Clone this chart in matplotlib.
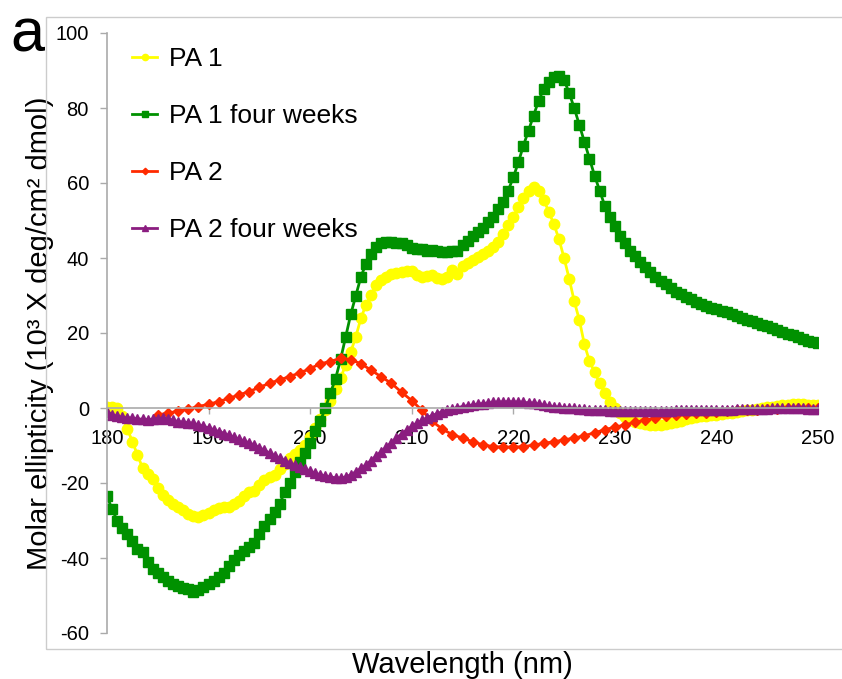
import numpy as np
import matplotlib.pyplot as plt
from matplotlib.patches import Rectangle

plt.rcParams['font.family'] = ['Liberation Sans', 'DejaVu Sans']
plt.rcParams['axes.unicode_minus'] = False

# wavelengths (nm)
wl = np.arange(180, 250.5, 0.5)
wl_red = np.arange(185, 251, 1)

# molar ellipticity (10^3 deg cm2 / dmol)
pa1 = [0.3, 0.2, 0.0, -2.0, -5.5, -9.0, -12.5, -16.0, -17.5, -19.0, -21.3, -23.2, -24.5, -25.5, -26.4, -27.3, -28.2, -28.8, -29.0, -28.5,
       -27.9, -27.2, -26.7, -26.5, -26.3, -25.6, -24.8, -23.5, -22.5, -22.0, -20.5, -19.2, -18.5, -17.8, -16.3, -15.0, -13.3, -12.3, -11.2, -9.8,
       -7.8, -5.2, -2.8, -0.5, 2.0, 5.0, 8.0, 11.5, 15.0, 19.0, 24.0, 27.5, 30.2, 32.8, 34.2, 35.0, 35.8, 36.0, 36.3, 36.6,
       36.5, 35.5, 35.0, 35.2, 35.5, 34.8, 34.5, 35.0, 36.8, 35.8, 37.8, 38.8, 39.5, 40.3, 41.0, 41.8, 43.0, 44.2, 46.5, 48.8,
       51.0, 53.5, 56.0, 58.0, 59.0, 58.0, 55.5, 52.3, 49.0, 45.0, 40.0, 34.5, 28.5, 23.5, 17.0, 12.5, 9.6, 6.7, 4.0, 1.6,
       0.0, -1.2, -2.3, -3.0, -3.6, -4.0, -4.3, -4.5, -4.5, -4.5, -4.3, -4.1, -3.8, -3.4, -3.0, -2.7, -2.4, -2.2, -2.0, -1.9,
       -1.8, -1.6, -1.4, -1.2, -1.0, -0.8, -0.6, -0.4, -0.2, 0.0, 0.2, 0.4, 0.6, 0.8, 0.9, 1.0, 1.0, 1.0, 0.9, 0.9,
       0.8]

pa1_4w = [-23.5, -27, -30, -32, -33.5, -35.5, -37.5, -38.5, -41, -43, -44, -45, -46, -46.8, -47.5, -48, -48.2, -49, -48.5, -47.8,
          -46.8, -46, -45, -44, -42, -40.5, -39.3, -38, -37, -36, -33.5, -31.5, -29.5, -27.8, -25.5, -22.5, -20, -17, -14.5, -12,
          -9.3, -6.2, -3.5, 0, 4, 7.8, 13, 19, 25, 30, 35, 38.5, 41, 43, 44, 44.2, 44.3, 44, 44, 43.5,
          42.8, 42.5, 42.3, 42, 42.2, 41.8, 41.5, 41.5, 42, 42, 43.5, 44.5, 46, 47, 48, 49.5, 51, 53, 55, 58,
          61.5, 65.5, 70, 74, 78, 82, 85, 87, 88.3, 88.5, 87.5, 84, 80, 75.5, 71, 66.5, 62, 58, 54, 51,
          48.5, 46, 44, 42, 40.5, 39, 37.5, 36.2, 35, 34, 33, 32, 31, 30.3, 29.5, 29, 28.3, 27.8, 27.3, 26.8,
          26.3, 25.9, 25.5, 25, 24.5, 24, 23.6, 23.1, 22.7, 22.2, 21.8, 21.3, 20.8, 20.3, 19.8, 19.4, 19, 18.5, 18, 17.6,
          17.3]

pa2 = [-1.9, -1.3, -0.9, -0.3, 0.4, 1.0, 1.7, 2.6, 3.5,
       4.4, 5.5, 6.6, 7.5, 8.4, 9.4, 10.5, 11.8, 12.4, 13.3,
       12.9, 11.8, 10.1, 8.3, 6.6, 4.2, 2.0, -0.6, -3.5, -5.6,
       -7.1, -8.0, -9.0, -9.8, -10.3, -10.4, -10.4, -10.3, -9.9, -9.4,
       -9.0, -8.5, -8.0, -7.4, -6.6, -5.8, -5.1, -4.5, -3.8, -3.2,
       -2.7, -2.2, -1.9, -1.6, -1.4, -1.2, -1.0, -0.8, -0.6, -0.5,
       -0.4, -0.3, -0.2, -0.1, 0.0, 0.1, 0.1]

pa2_4w = [-1.0, -1.8, -2.2, -2.5, -2.6, -2.7, -2.9, -3.0, -3.1, -3.0, -2.8, -2.7, -2.9, -3.3, -3.6, -3.8, -3.9, -4.1, -4.5, -4.9,
          -5.3, -5.8, -6.3, -6.8, -7.3, -7.8, -8.3, -8.8, -9.3, -9.9, -10.6, -11.3, -12.0, -12.7, -13.4, -14.0, -14.6, -15.2, -15.7, -16.3,
          -16.9, -17.4, -17.8, -18.2, -18.4, -18.6, -18.7, -18.4, -17.8, -17.0, -16.1, -15.1, -14.0, -12.8, -11.6, -10.4, -9.2, -8.0, -6.9, -5.9,
          -4.9, -4.0, -3.3, -2.6, -2.0, -1.5, -1.0, -0.6, -0.2, 0.1, 0.4, 0.6, 0.8, 1.0, 1.2, 1.3, 1.5, 1.6, 1.6, 1.7,
          1.6, 1.6, 1.5, 1.4, 1.3, 1.0, 0.7, 0.5, 0.3, 0.2, 0.1, 0.0, -0.1, -0.2, -0.3, -0.4, -0.5, -0.6, -0.6, -0.7,
          -0.7, -0.8, -0.8, -0.8, -0.8, -0.8, -0.8, -0.7, -0.7, -0.7, -0.7, -0.7, -0.6, -0.6, -0.6, -0.6, -0.5, -0.5, -0.5, -0.5,
          -0.5, -0.4, -0.4, -0.4, -0.3, -0.3, -0.3, -0.2, -0.2, -0.2, -0.2, -0.1, -0.1, -0.1, -0.1, 0.0, -0.1, -0.1, -0.2, -0.2,
          -0.2]

fig = plt.figure(figsize=(8.42, 6.79), dpi=100)
W, H = 842, 679
ax = fig.add_axes([107 / W, 1 - 633 / H, 711 / W, 600 / H])

# light grey frame of the chart area (right edge falls outside the picture)
fig.patches.append(Rectangle((46 / W, 1 - 649 / H), 2, (649 - 17) / H, transform=fig.transFigure,
                             fill=False, edgecolor='#cccccc', linewidth=1, zorder=0))

ax.plot(wl, pa1, color='#ffff00', marker='o', markersize=7.5, linewidth=2, label='PA 1')
ax.plot(wl, pa1_4w, color='#009100', marker='s', markersize=6.5, linewidth=2, label='PA 1 four weeks')
ax.plot(wl_red, pa2, color='#ff2a00', marker='D', markersize=5.5, linewidth=2, label='PA 2')
ax.plot(wl, pa2_4w, color='#8b1d80', marker='^', markersize=7, linewidth=2, label='PA 2 four weeks')

ax.set_xlim(180, 250)
ax.set_ylim(-60, 100)
ax.set_xticks(np.arange(180, 251, 10))
ax.set_yticks(np.arange(-60, 101, 20))

for s in ['top', 'right']:
    ax.spines[s].set_visible(False)
ax.spines['bottom'].set_position(('data', 0))
for s in ['left', 'bottom']:
    ax.spines[s].set_color('#aaaaaa')
    ax.spines[s].set_linewidth(1.2)
ax.tick_params(axis='x', direction='out', length=4, width=1, color='#aaaaaa', labelsize=14.5, pad=11)
ax.tick_params(axis='y', direction='out', length=5, width=1, color='#aaaaaa', labelsize=14.5, pad=8)

ax.set_xlabel('Wavelength (nm)', fontsize=21)
ax.xaxis.set_label_coords(0.5, -0.03)
ax.set_ylabel('Molar ellipticity (10³ X deg/cm² dmol)', fontsize=21)
ax.yaxis.set_label_coords(-0.075, 0.5)

ax.legend(loc='upper left', bbox_to_anchor=(132 / W, 1 - 47 / H), bbox_transform=fig.transFigure,
          frameon=False, fontsize=19, handlelength=0.95, handletextpad=0.45, labelspacing=1.25,
          markerscale=0.6, borderpad=0, borderaxespad=0)

fig.text(10 / W, 1 - 51 / H, 'a', fontsize=44)

fig.savefig('out.png', dpi=100)
